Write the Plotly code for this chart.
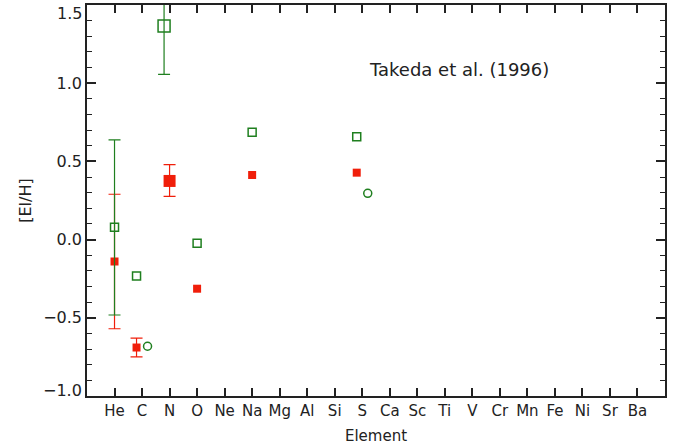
import plotly.graph_objects as go

# Element order along the x axis
elements = ["He", "C", "N", "O", "Ne", "Na", "Mg", "Al", "Si", "S",
            "Ca", "Sc", "Ti", "V", "Cr", "Mn", "Fe", "Ni", "Sr", "Ba"]
positions = list(range(1, len(elements) + 1))

# y-axis major ticks and their labels
y_ticks = [-1.0, -0.5, 0.0, 0.5, 1.0, 1.5]
y_labels = ["\u22121.0", "\u22120.5", "0.0", "0.5", "1.0", "1.5"]

# Filled red squares (He, C, N, O, Na, S); None = no error bar
red_pos = [1.0, 1.8, 3.0, 4.0, 6.0, 9.8]
red_val = [-0.14, -0.69, 0.375, -0.314, 0.413, 0.428]
red_err_plus = [0.43, 0.06, 0.104, None, None, None]
red_err_minus = [0.43, 0.06, 0.098, None, None, None]
red_size = [8, 8, 12, 8, 8, 8]

# Open green squares
green_pos = [1.0, 1.8, 2.8, 4.0, 6.0, 9.8]
green_val = [0.079, -0.233, 1.366, -0.024, 0.686, 0.658]
green_err_plus = [0.558, None, 0.309, None, None, None]
green_err_minus = [0.561, None, 0.309, None, None, None]
green_size = [8, 8, 12, 8, 8, 8]

# Open green circles
circ_pos = [2.2, 10.2]
circ_val = [-0.682, 0.296]

RED = "#f01e0a"
GREEN = "#1f7f1f"
INK = "#222222"
FONT = "DejaVu Sans"


def split(pos, val, plus, minus, size):
    """Separate points with error bars from those without."""
    with_err = [i for i, p in enumerate(plus) if p is not None]
    no_err = [i for i, p in enumerate(plus) if p is None]
    pick = lambda seq, idx: [seq[i] for i in idx]
    return ((pick(pos, with_err), pick(val, with_err), pick(plus, with_err),
             pick(minus, with_err), pick(size, with_err)),
            (pick(pos, no_err), pick(val, no_err), pick(size, no_err)))


fig = go.Figure()

for pos, val, plus, minus, size, color, symbol, lw in [
    (red_pos, red_val, red_err_plus, red_err_minus, red_size, RED, "square", 0),
    (green_pos, green_val, green_err_plus, green_err_minus, green_size, GREEN,
     "square-open", 1.5),
]:
    (ex, ey, ep, em, es), (nx, ny, ns) = split(pos, val, plus, minus, size)
    marker_line = dict(width=lw, color=color)
    fig.add_trace(go.Scatter(
        x=ex, y=ey, mode="markers",
        marker=dict(symbol=symbol, size=es, color=color, opacity=1,
                    line=marker_line),
        error_y=dict(type="data", array=ep, arrayminus=em, symmetric=False,
                     color=color, thickness=1.2, width=6),
        showlegend=False,
    ))
    fig.add_trace(go.Scatter(
        x=nx, y=ny, mode="markers",
        marker=dict(symbol=symbol, size=ns, color=color, opacity=1,
                    line=marker_line),
        showlegend=False,
    ))

fig.add_trace(go.Scatter(
    x=circ_pos, y=circ_val, mode="markers",
    marker=dict(symbol="circle-open", size=8, color=GREEN, opacity=1,
                line=dict(width=1.5, color=GREEN)),
    showlegend=False,
))

fig.add_annotation(
    text="Takeda et al. (1996)", xref="paper", yref="paper",
    x=0.644, y=0.868, showarrow=False,
    font=dict(family=FONT, size=18, color=INK),
)

# End labels of the y axis sit just inside the frame
for val, shift in [(y_ticks[-1], -8), (y_ticks[0], 6)]:
    fig.add_annotation(
        text=y_labels[y_ticks.index(val)], xref="paper", yref="y",
        x=0, y=val, xanchor="right", yanchor="middle",
        xshift=-3, yshift=shift, showarrow=False,
        font=dict(family=FONT, size=16, color=INK),
    )

fig.update_xaxes(
    range=[0, 21], tickmode="array", tickvals=positions, ticktext=elements,
    ticks="inside", ticklen=8, tickwidth=1.5, tickcolor=INK,
    showline=True, linecolor=INK, linewidth=1.5, mirror="ticks",
    showgrid=False, zeroline=False, automargin=False,
    tickfont=dict(family=FONT, size=15, color=INK),
    title=dict(text="Element", font=dict(family=FONT, size=15, color=INK),
               standoff=12),
)

inner_labels = [lab if 0 < i < len(y_labels) - 1 else ""
                for i, lab in enumerate(y_labels)]
fig.update_yaxes(
    range=[-1.0, 1.5], tickmode="array", tickvals=y_ticks,
    ticktext=inner_labels,
    ticks="inside", ticklen=9, tickwidth=1.5, tickcolor=INK,
    minor=dict(dtick=0.1, tick0=-1.0, ticks="inside", ticklen=5,
               tickwidth=1.2, tickcolor=INK, showgrid=False),
    showline=True, linecolor=INK, linewidth=1.5, mirror="ticks",
    showgrid=False, zeroline=False, automargin=False,
    tickfont=dict(family=FONT, size=16, color=INK),
    title=dict(text="[El/H]", font=dict(family=FONT, size=16, color=INK),
               standoff=8),
)

fig.update_layout(
    width=674, height=447,
    margin=dict(l=87, r=9, t=5, b=51),
    paper_bgcolor="white", plot_bgcolor="white",
)

fig.write_html("out.html")
